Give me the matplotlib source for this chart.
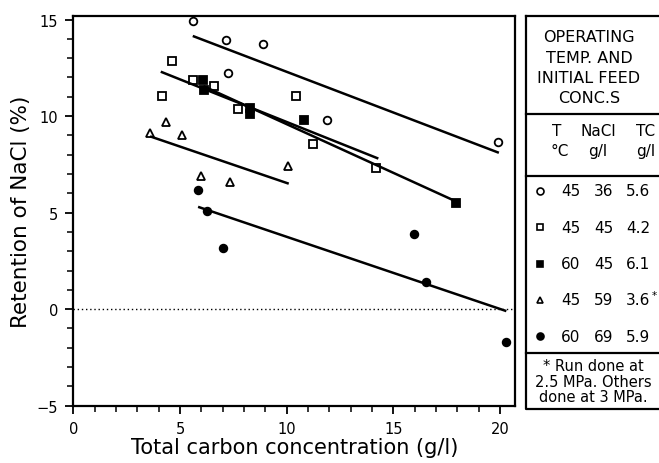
import matplotlib.pyplot as plt
from matplotlib.ticker import MultipleLocator

# data: total carbon (g/l) vs NaCl retention (%)
open_circ_x = [5.6, 7.15, 8.9, 7.25, 11.9, 19.9]
open_circ_y = [14.9, 13.95, 13.75, 12.25, 9.8, 8.65]

open_sq_x = [4.65, 5.6, 6.6, 4.15, 7.7, 10.45, 11.25, 14.2]
open_sq_y = [12.85, 11.85, 11.55, 11.05, 10.35, 11.05, 8.55, 7.3]

fill_sq_x = [6.1, 6.15, 8.3, 8.3, 10.8, 17.95]
fill_sq_y = [11.85, 11.35, 10.4, 10.1, 9.8, 5.5]

tri_x = [3.6, 4.35, 5.1, 6.0, 7.35, 10.05]
tri_y = [9.15, 9.7, 9.0, 6.9, 6.6, 7.4]

fill_circ_x = [5.85, 6.25, 7.0, 15.95, 16.55, 20.3]
fill_circ_y = [6.15, 5.1, 3.15, 3.9, 1.4, -1.7]

# regression lines: (x start, x end), (y start, y end)
fit_circ = ([5.6, 19.95], [14.15, 8.1])
fit_osq = ([4.1, 14.3], [12.3, 7.8])
fit_fsq = ([6.1, 18.0], [11.55, 5.55])
fit_tri = ([3.6, 10.1], [8.95, 6.5])
fit_fcirc = ([5.85, 20.3], [5.3, -0.1])

# legend table contents
legend_rows = [("45", "36", "5.6"), ("45", "45", "4.2"), ("60", "45", "6.1"),
               ("45", "59", "3.6"), ("60", "69", "5.9")]
starred = [False, False, False, True, False]

plt.rcParams['font.family'] = ['DejaVu Sans']

fig = plt.figure(figsize=(6.59, 4.64), dpi=100)
W, H = 659, 464
ax = fig.add_axes([73.3 / W, 1 - 406.7 / H, (515.3 - 73.3) / W, (406.7 - 16.7) / H])

mk = dict(linestyle='none', markersize=5.5, markeredgewidth=1.3, color='black')
ax.plot(open_circ_x, open_circ_y, marker='o', markerfacecolor='white', **mk)
ax.plot(open_sq_x, open_sq_y, marker='s', markerfacecolor='white', **mk)
ax.plot(fill_sq_x, fill_sq_y, marker='s', markerfacecolor='black', **mk)
ax.plot(tri_x, tri_y, marker='^', markerfacecolor='white', **mk)
ax.plot(fill_circ_x, fill_circ_y, marker='o', markerfacecolor='black', **mk)

for fx, fy in [fit_circ, fit_osq, fit_fsq, fit_tri, fit_fcirc]:
    ax.plot(fx, fy, color='black', lw=1.8, solid_capstyle='butt')

ax.axhline(0, color='black', lw=1, linestyle=(0, (1, 2)))

ax.set_xlim(0, 20.72)
ax.set_ylim(-5, 15.2)
ax.xaxis.set_major_locator(MultipleLocator(5))
ax.xaxis.set_minor_locator(MultipleLocator(1))
ax.yaxis.set_major_locator(MultipleLocator(5))
ax.yaxis.set_minor_locator(MultipleLocator(1))
ax.tick_params(which='major', direction='out', length=6, width=1.3, labelsize=10.5, pad=5)
ax.tick_params(which='minor', direction='out', length=4, width=1.1)
for s in ax.spines.values():
    s.set_linewidth(1.6)

ax.set_xlabel('Total carbon concentration (g/l)', fontsize=15, labelpad=1)
ax.set_ylabel('Retention of NaCl (%)', fontsize=15.5, labelpad=4)

# side panel drawn in pixel coordinates
pn = fig.add_axes([0, 0, 1, 1], facecolor='none')
pn.set_xlim(0, W)
pn.set_ylim(H, 0)
pn.axis('off')

lw = 1.6
pn.plot([526, 526, 700], [17.3, 410, 410], color='black', lw=lw)
pn.plot([526, 700], [17.3, 17.3], color='black', lw=lw)
for yy in [115, 177, 354]:
    pn.plot([526, 700], [yy, yy], color='black', lw=lw)

hdr = ["OPERATING", "TEMP. AND", "INITIAL FEED", "CONC.S"]
for i, t in enumerate(hdr):
    pn.text(589, 38 + i * 20.3, t, ha='center', va='center', fontsize=11.5)

pn.text(557, 132, "T", ha='center', va='center', fontsize=11)
pn.text(598, 132, "NaCl", ha='center', va='center', fontsize=11)
pn.text(636, 132, "TC", ha='left', va='center', fontsize=11)
pn.text(560, 152, "°C", ha='center', va='center', fontsize=11)
pn.text(598, 152, "g/l", ha='center', va='center', fontsize=11)
pn.text(636, 152, "g/l", ha='left', va='center', fontsize=11)

styles = [('o', 'white'), ('s', 'white'), ('s', 'black'), ('^', 'white'), ('o', 'black')]
for i, (row, (m, fc)) in enumerate(zip(legend_rows, styles)):
    yy = 192 + i * 36.3
    pn.plot([540], [yy], marker=m, markersize=5, markerfacecolor=fc,
            markeredgecolor='black', markeredgewidth=1.2, linestyle='none')
    pn.text(571, yy, row[0], ha='center', va='center', fontsize=11)
    pn.text(604, yy, row[1], ha='center', va='center', fontsize=11)
    pn.text(626, yy, row[2], ha='left', va='center', fontsize=11)
    if starred[i]:
        pn.text(652, yy - 5, "*", ha='left', va='center', fontsize=7.5)

foot = ["* Run done at", "2.5 MPa. Others", "done at 3 MPa."]
for i, t in enumerate(foot):
    pn.text(593, 367 + i * 15.5, t, ha='center', va='center', fontsize=10.5)

fig.savefig('out.png', dpi=100)
